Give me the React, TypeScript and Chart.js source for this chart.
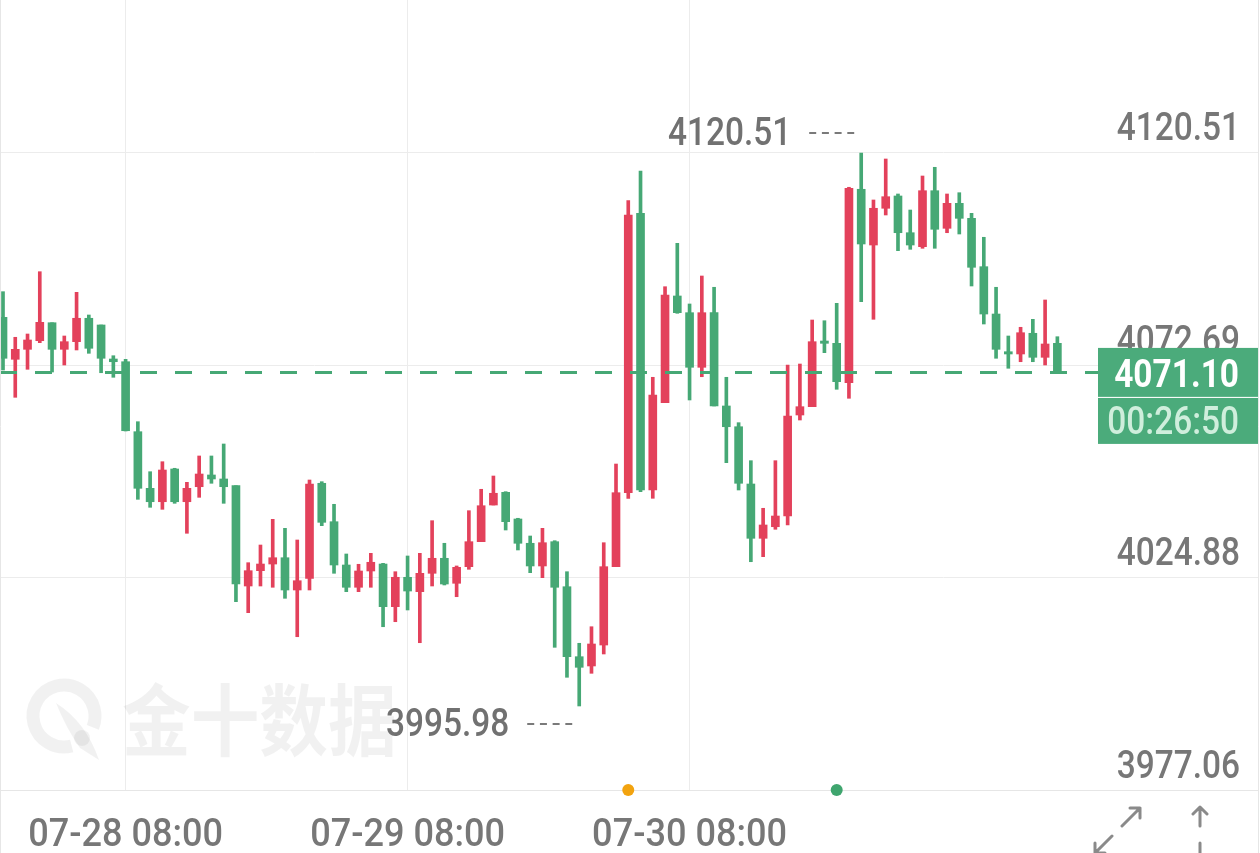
import React, { useEffect, useRef } from 'react';
import { Chart, registerables } from 'chart.js';

Chart.register(...registerables);

// Hourly OHLC candles (index 0..86)
const opens = [
  4083.51, 4074.05, 4076.30, 4078.24, 4082.29, 4076.30, 4078.02, 4083.29, 4081.78, 4074.12,
  4073.51, 4057.75, 4045.00, 4041.98, 4049.35, 4041.98, 4045.36, 4048.00, 4047.10, 4045.59,
  4023.00, 4026.45, 4027.95, 4029.37, 4022.10, 4024.73, 4046.13, 4037.48, 4027.73, 4022.71,
  4026.38, 4027.95, 4018.34, 4024.96, 4021.72, 4025.86, 4029.24, 4023.61, 4027.35, 4032.98,
  4041.24, 4044.10, 4038.09, 4032.62, 4027.51, 4032.98, 4022.84, 4007.08, 4004.99, 4009.71,
  4027.35, 4044.01, 4106.93, 4044.62, 4064.28, 4088.31, 4084.55, 4072.25, 4084.55, 4063.54,
  4058.87, 4045.97, 4033.74, 4036.35, 4038.76, 4061.51, 4063.38, 4078.17, 4077.65, 4068.78,
  4112.34, 4099.79, 4108.06, 4110.83, 4102.56, 4099.41, 4112.02, 4103.55, 4109.18, 4105.80,
  4094.91, 4084.25, 4075.76, 4075.25, 4079.91, 4074.50, 4077.65,
];
const highs = [
  4089.28, 4079.01, 4079.75, 4093.78, 4082.29, 4079.30, 4089.14, 4084.03, 4081.78, 4074.86,
  4074.05, 4060.00, 4048.74, 4050.99, 4049.51, 4046.35, 4052.28, 4052.28, 4054.98, 4045.59,
  4028.25, 4032.23, 4038.02, 4035.99, 4033.36, 4046.87, 4046.49, 4041.40, 4030.21, 4027.89,
  4030.36, 4028.11, 4026.22, 4029.76, 4030.36, 4037.71, 4032.62, 4027.51, 4039.96, 4044.78,
  4047.77, 4044.24, 4038.25, 4034.26, 4035.99, 4033.20, 4026.22, 4010.10, 4013.83, 4032.75,
  4050.47, 4109.77, 4116.46, 4070.00, 4090.40, 4100.17, 4086.51, 4092.81, 4090.27, 4070.00,
  4059.78, 4051.22, 4040.50, 4051.22, 4072.77, 4072.99, 4082.90, 4082.74, 4086.66, 4112.79,
  4120.51, 4109.93, 4119.16, 4111.28, 4107.67, 4115.33, 4117.29, 4111.28, 4111.57, 4106.93,
  4101.53, 4090.27, 4079.30, 4081.26, 4083.06, 4087.41, 4079.14,
];
const lows = [
  4071.64, 4065.49, 4071.80, 4077.79, 4071.19, 4072.77, 4076.15, 4075.40, 4071.03, 4070.00,
  4057.91, 4042.52, 4040.72, 4040.27, 4041.62, 4034.87, 4042.97, 4046.13, 4041.62, 4019.47,
  4016.99, 4023.00, 4022.71, 4020.23, 4011.58, 4022.10, 4036.58, 4025.86, 4021.72, 4021.72,
  4022.71, 4013.83, 4014.96, 4017.60, 4010.23, 4023.00, 4023.23, 4020.59, 4026.76, 4032.98,
  4041.24, 4035.61, 4031.11, 4026.00, 4024.87, 4009.19, 4002.44, 3995.98, 4003.34, 4007.69,
  4027.35, 4042.75, 4044.24, 4042.75, 4064.28, 4084.41, 4064.89, 4070.13, 4063.54, 4050.77,
  4044.62, 4028.47, 4029.60, 4035.77, 4036.74, 4060.38, 4063.38, 4075.54, 4067.30, 4065.27,
  4087.02, 4083.06, 4106.55, 4098.51, 4098.82, 4099.05, 4099.05, 4102.56, 4102.27, 4090.56,
  4082.00, 4074.28, 4072.03, 4073.51, 4073.51, 4072.77, 4070.90,
];
const closes = [
  4074.28, 4076.30, 4078.40, 4082.38, 4076.30, 4078.02, 4083.29, 4076.53, 4074.28, 4073.51,
  4057.97, 4045.00, 4041.98, 4049.12, 4041.98, 4045.00, 4048.22, 4047.10, 4045.36, 4023.45,
  4026.45, 4027.95, 4029.37, 4022.10, 4024.19, 4045.97, 4037.34, 4027.73, 4022.71, 4026.38,
  4028.34, 4018.34, 4024.96, 4021.87, 4025.86, 4029.24, 4023.45, 4027.21, 4032.98, 4041.08,
  4043.88, 4037.48, 4032.62, 4027.51, 4032.75, 4022.71, 4007.08, 4004.69, 4009.94, 4027.35,
  4044.01, 4106.55, 4044.62, 4066.01, 4088.53, 4084.55, 4072.25, 4084.55, 4063.54, 4058.87,
  4046.13, 4033.74, 4036.74, 4038.76, 4061.28, 4063.38, 4078.02, 4077.65, 4069.01, 4112.56,
  4100.02, 4108.06, 4110.67, 4102.56, 4099.79, 4112.02, 4103.33, 4109.18, 4105.80, 4094.77,
  4084.25, 4076.30, 4075.25, 4080.04, 4074.50, 4077.50, 4071.10,
];

const xTickIndex = [10, 33, 56];
const xTickLabels = ['07-28 08:00', '07-29 08:00', '07-30 08:00'];
const yTicks = [3977.06, 4024.88, 4072.69, 4120.51];
const lastPrice = 4071.10;
const countdown = '00:26:50';
const eventIdx = [51, 68];
const eventColors = ['#f2a30f', '#3fa56e'];

const UP = '#e3415b';
const DOWN = '#46a875';
const BOX = '#4bab7b';
const LABEL = '#777777';
const GRID = '#ececec';
const FONT = "Roboto, 'DejaVu Sans', sans-serif";
const FONT_SIZE = 38;
const SX = 0.88;
const SX_TIME = 0.95;
const TEXT_DY = 4;

const X_MIN = -0.245;
const X_MAX = 102.365;
const Y_MIN = 3977.06;
const Y_MAX = 4154.965;
const PRICE_LINE_END = 90;

function drawLabel(
  ctx: CanvasRenderingContext2D,
  text: string,
  x: number,
  y: number,
  align: CanvasTextAlign,
  color: string,
  weight = '500',
  sx = SX,
) {
  ctx.save();
  ctx.translate(x, y + TEXT_DY);
  ctx.scale(sx, 1);
  ctx.font = `${weight} ${FONT_SIZE}px ${FONT}`;
  ctx.fillStyle = color;
  ctx.textAlign = align;
  ctx.textBaseline = 'middle';
  ctx.fillText(text, 0, 0);
  ctx.restore();
}

const overlay = {
  id: 'overlay',
  beforeDatasetsDraw(chart: any) {
    const ctx = chart.ctx as CanvasRenderingContext2D;
    ctx.save();
    // watermark logo
    const wm = 'rgba(0,0,0,0.055)';
    ctx.strokeStyle = wm;
    ctx.fillStyle = wm;
    ctx.lineWidth = 13;
    ctx.beginPath();
    ctx.arc(64, 716, 31, Math.PI * 0.42, Math.PI * 2.12);
    ctx.stroke();
    ctx.beginPath();
    ctx.moveTo(56, 703);
    ctx.quadraticCurveTo(86, 722, 99, 760);
    ctx.lineTo(80, 748);
    ctx.quadraticCurveTo(66, 728, 56, 703);
    ctx.fill();
    ctx.beginPath();
    ctx.arc(82, 738, 8, 0, Math.PI * 2);
    ctx.fill();
    // watermark text
    ctx.translate(122, 720);
    ctx.scale(0.88, 1);
    ctx.font = "bold 78px 'Noto Sans CJK SC'";
    ctx.textBaseline = 'middle';
    ctx.textAlign = 'left';
    ctx.fillText('金十数据', 0, 0);
    ctx.restore();
  },
  afterDraw(chart: any) {
    const ctx = chart.ctx as CanvasRenderingContext2D;
    const xs = chart.scales.x;
    const ys = chart.scales.y;
    ctx.save();

    // axis tick labels from the scales' ticks
    ys.ticks.forEach((t: any) => {
      drawLabel(ctx, Number(t.value).toFixed(2), xs.right - 18, ys.getPixelForValue(t.value) - 26, 'right', LABEL);
    });
    xs.ticks.forEach((t: any) => {
      const k = xTickIndex.indexOf(Number(t.value));
      if (k >= 0) drawLabel(ctx, xTickLabels[k], xs.getPixelForValue(t.value), ys.bottom + 42, 'center', LABEL, '500', SX_TIME);
    });

    // high / low annotations
    let hi = 0, lo = 0;
    highs.forEach((v, i) => { if (v > highs[hi]) hi = i; });
    lows.forEach((v, i) => { if (v < lows[lo]) lo = i; });
    const drawNote = (idx: number, val: number, dy: number) => {
      const px = xs.getPixelForValue(idx);
      const py = ys.getPixelForValue(val) + dy;
      const dashEnd = px - 7;
      const dashStart = dashEnd - 45;
      drawLabel(ctx, val.toFixed(2), dashStart - 18, py, 'right', '#717171');
      ctx.strokeStyle = '#7a7a7a';
      ctx.lineWidth = 2;
      ctx.setLineDash([7, 5.7]);
      ctx.beginPath();
      ctx.moveTo(dashStart, py + 1);
      ctx.lineTo(dashEnd, py + 1);
      ctx.stroke();
      ctx.setLineDash([]);
    };
    drawNote(hi, highs[hi], -21);
    drawNote(lo, lows[lo], 17);

    // frame lines
    ctx.strokeStyle = '#e6e6e6';
    ctx.lineWidth = 1;
    ctx.beginPath();
    ctx.moveTo(0.5, 0); ctx.lineTo(0.5, chart.height);
    ctx.moveTo(1258.5, 0); ctx.lineTo(1258.5, chart.height);
    ctx.stroke();

    // current price box
    const py = ys.getPixelForValue(lastPrice);
    ctx.fillStyle = BOX;
    ctx.fillRect(1098, py - 24.5, 160, 49);
    ctx.fillRect(1098, py + 25.5, 160, 46);
    ctx.fillStyle = 'rgba(255,255,255,0.45)';
    ctx.fillRect(1098, py + 24.5, 160, 1);
    drawLabel(ctx, lastPrice.toFixed(2), 1239, py + 1, 'right', '#ffffff', 'bold');
    drawLabel(ctx, countdown, 1239, py + 48, 'right', '#cfeedc', '500');

    // bottom-right icons
    ctx.strokeStyle = '#8a8a8a';
    ctx.lineWidth = 3;
    ctx.lineCap = 'round';
    ctx.lineJoin = 'round';
    ctx.beginPath();
    ctx.moveTo(1122, 826); ctx.lineTo(1140, 808);
    ctx.moveTo(1130, 808); ctx.lineTo(1140, 808); ctx.lineTo(1140, 818);
    ctx.moveTo(1112, 836); ctx.lineTo(1095, 853);
    ctx.moveTo(1095, 843); ctx.lineTo(1095, 853); ctx.lineTo(1105, 853);
    ctx.moveTo(1200, 807); ctx.lineTo(1200, 826);
    ctx.moveTo(1193, 814); ctx.lineTo(1200, 807); ctx.lineTo(1207, 814);
    ctx.moveTo(1200, 843); ctx.lineTo(1200, 862);
    ctx.moveTo(1193, 855); ctx.lineTo(1200, 862); ctx.lineTo(1207, 855);
    ctx.stroke();
    ctx.restore();
  },
};

export default function App() {
  const ref = useRef<HTMLCanvasElement>(null);
  useEffect(() => {
    const canvas = ref.current;
    if (!canvas) return;
    const idx = closes.map((_, i) => i);
    const colors = idx.map((i) => (closes[i] >= opens[i] ? UP : DOWN));
    const wickData = idx.map((i) => ({ x: i, y: [lows[i], highs[i]] }));
    const bodyData = idx.map((i) => ({ x: i, y: [opens[i], closes[i]] }));

    const chart = new Chart(canvas, {
      type: 'bar',
      data: {
        datasets: [
          {
            type: 'line',
            data: [
              { x: X_MIN, y: lastPrice },
              { x: PRICE_LINE_END, y: lastPrice },
            ],
            borderColor: DOWN,
            borderWidth: 3,
            borderDash: [17, 18],
            pointRadius: 0,
            order: 0,
          },
          {
            type: 'scatter',
            data: eventIdx.map((i) => ({ x: i, y: Y_MIN })),
            pointBackgroundColor: eventColors,
            pointBorderColor: eventColors,
            pointBorderWidth: 0,
            pointRadius: 6,
            clip: false,
            order: 0,
          },
          {
            type: 'bar',
            data: bodyData,
            backgroundColor: colors,
            barThickness: 8,
            minBarLength: 2,
            grouped: false,
            order: 1,
          },
          {
            type: 'bar',
            data: wickData,
            backgroundColor: colors,
            barThickness: 3,
            grouped: false,
            order: 2,
          },
        ],
      } as any,
      options: {
        responsive: false,
        animation: false,
        events: [],
        layout: { padding: 0, autoPadding: false },
        plugins: { legend: { display: false }, tooltip: { enabled: false } },
        scales: {
          x: {
            type: 'linear',
            min: X_MIN,
            max: X_MAX,
            offset: false,
            grid: { offset: false, color: GRID, drawTicks: false, lineWidth: 1 },
            border: { display: true, color: '#e6e6e6' },
            afterBuildTicks: (ax: any) => {
              ax.ticks = xTickIndex.map((v) => ({ value: v }));
            },
            afterFit: (ax: any) => {
              ax.height = 63;
              ax.paddingLeft = 0;
              ax.paddingRight = 0;
            },
            ticks: { display: false },
          },
          y: {
            type: 'linear',
            position: 'right',
            min: Y_MIN,
            max: Y_MAX,
            grid: { color: GRID, drawTicks: false, lineWidth: 1 },
            border: { display: false },
            afterBuildTicks: (ax: any) => {
              ax.ticks = yTicks.map((v) => ({ value: v }));
            },
            afterFit: (ax: any) => {
              ax.width = 2;
              ax.paddingTop = 0;
              ax.paddingBottom = 0;
            },
            ticks: { display: false },
          },
        },
      } as any,
      plugins: [overlay],
    });
    return () => chart.destroy();
  }, []);

  return (
    <div style={{ position: 'absolute', left: 0, top: 0, width: 1260, height: 853, background: '#fff' }}>
      <canvas ref={ref} width={1260} height={853} style={{ display: 'block' }} />
    </div>
  );
}
